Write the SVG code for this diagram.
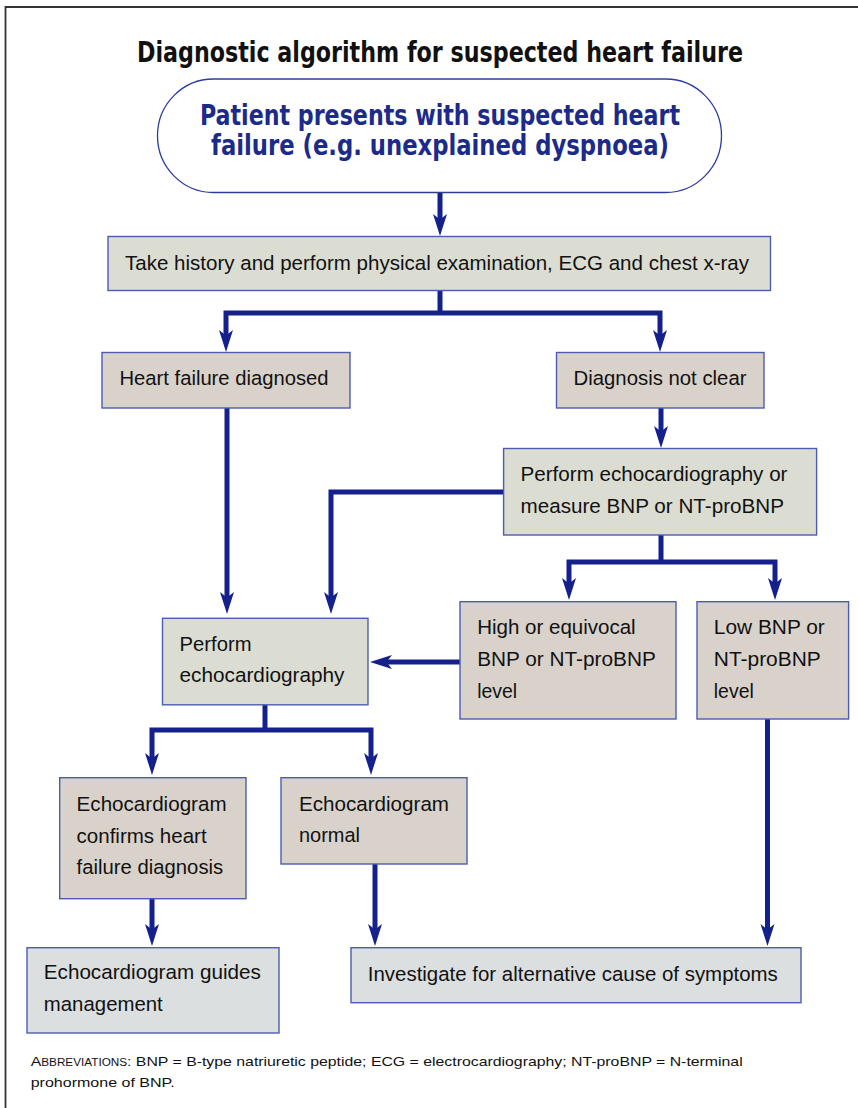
<svg xmlns="http://www.w3.org/2000/svg" width="858" height="1108" viewBox="0 0 858 1108">
<style>
.box{stroke:#4d5cb0;stroke-width:1.4}
.g{fill:#dbddd2}
.b{fill:#d9d2cb}
.l{fill:#dcdfdf}
.t{font-family:"Liberation Sans",Arial,sans-serif;font-size:20.5px;fill:#111}
.hd{font-family:"DejaVu Sans Condensed","DejaVu Sans","Liberation Sans",sans-serif;font-weight:bold}
.con{fill:none;stroke:#14218c;stroke-width:5;stroke-linejoin:miter;stroke-linecap:butt}
.ab{font-family:"Liberation Sans",Arial,sans-serif;font-size:13.5px;fill:#111}
</style>
<defs>
<marker id="ah" markerUnits="userSpaceOnUse" viewBox="-10 -8 24 16" refX="0" refY="0" markerWidth="24" markerHeight="16" orient="auto" overflow="visible">
<path d="M12,0 L-10,-7 L-4.5,0 L-10,7 Z" fill="#14218c"/>
</marker>
</defs>
<rect width="858" height="1108" fill="#fff"/>
<path d="M5.5,1108 V7 H858" fill="none" stroke="#333" stroke-width="1.8"/>
<text class="hd" x="440" y="61.5" font-size="28.5" text-anchor="middle" textLength="606" lengthAdjust="spacingAndGlyphs" fill="#111">Diagnostic algorithm for suspected heart failure</text>

<g id="connectors">
<path class="con" marker-end="url(#ah)" d="M440,193 V224"/>
<path class="con" d="M440,291 V313"/>
<path class="con" marker-end="url(#ah)" d="M440,313 H226 V340"/>
<path class="con" marker-end="url(#ah)" d="M440,313 H660 V340"/>
<path class="con" marker-end="url(#ah)" d="M227,408 V602"/>
<path class="con" marker-end="url(#ah)" d="M661,408 V436"/>
<path class="con" marker-end="url(#ah)" d="M503.6,492 H331 V602"/>
<path class="con" d="M661,535 V562"/>
<path class="con" marker-end="url(#ah)" d="M661,562 H569 V588"/>
<path class="con" marker-end="url(#ah)" d="M661,562 H775 V588"/>
<path class="con" marker-end="url(#ah)" d="M460,662 H382"/>
<path class="con" d="M265,705 V730"/>
<path class="con" marker-end="url(#ah)" d="M265,730 H152 V763"/>
<path class="con" marker-end="url(#ah)" d="M265,730 H371 V763"/>
<path class="con" marker-end="url(#ah)" d="M152,899 V934"/>
<path class="con" marker-end="url(#ah)" d="M375,864 V934"/>
<path class="con" marker-end="url(#ah)" d="M767.5,719 V934"/>
</g>

<g id="start">
<rect x="157.5" y="79" width="564" height="113.5" rx="56" ry="56.7" fill="#fff" stroke="#2d3d9c" stroke-width="1.3"/>
<text class="hd" x="440" y="125" font-size="27.5" text-anchor="middle" textLength="480" lengthAdjust="spacingAndGlyphs" fill="#1c2a8a">Patient presents with suspected heart</text>
<text class="hd" x="440" y="155" font-size="27.5" text-anchor="middle" textLength="458" lengthAdjust="spacingAndGlyphs" fill="#1c2a8a">failure (e.g. unexplained dyspnoea)</text>
</g>

<g id="history">
<rect class="box g" x="108" y="236.5" width="662.5" height="54"/>
<text class="t" x="125" y="269.5" textLength="624" lengthAdjust="spacingAndGlyphs">Take history and perform physical examination, ECG and chest x-ray</text>
</g>

<g id="hf-diagnosed">
<rect class="box b" x="102" y="352.5" width="248" height="55.5"/>
<text class="t" x="119.5" y="385" textLength="209" lengthAdjust="spacingAndGlyphs">Heart failure diagnosed</text>
</g>

<g id="not-clear">
<rect class="box b" x="556.5" y="352.5" width="207.5" height="55.5"/>
<text class="t" x="573.5" y="385" textLength="173" lengthAdjust="spacingAndGlyphs">Diagnosis not clear</text>
</g>

<g id="echo-or-bnp">
<rect class="box g" x="503.6" y="448.5" width="313" height="86.5"/>
<text class="t" x="520.5" y="481" textLength="267" lengthAdjust="spacingAndGlyphs">Perform echocardiography or</text>
<text class="t" x="520.5" y="512.7" textLength="263.5" lengthAdjust="spacingAndGlyphs">measure BNP or NT-proBNP</text>
</g>

<g id="perform-echo">
<rect class="box g" x="162.5" y="618.3" width="205.5" height="86.5"/>
<text class="t" x="179.5" y="651" textLength="72" lengthAdjust="spacingAndGlyphs">Perform</text>
<text class="t" x="179.5" y="682.3" textLength="165" lengthAdjust="spacingAndGlyphs">echocardiography</text>
</g>

<g id="high-bnp">
<rect class="box b" x="460" y="601.7" width="216" height="117.3"/>
<text class="t" x="477.2" y="634" textLength="158.5" lengthAdjust="spacingAndGlyphs">High or equivocal</text>
<text class="t" x="477.2" y="666" textLength="178.6" lengthAdjust="spacingAndGlyphs">BNP or NT-proBNP</text>
<text class="t" x="477.2" y="697.7" textLength="40" lengthAdjust="spacingAndGlyphs">level</text>
</g>

<g id="low-bnp">
<rect class="box b" x="697" y="601.7" width="151.6" height="117.3"/>
<text class="t" x="713.8" y="634" textLength="111" lengthAdjust="spacingAndGlyphs">Low BNP or</text>
<text class="t" x="713.8" y="666" textLength="107" lengthAdjust="spacingAndGlyphs">NT-proBNP</text>
<text class="t" x="713.8" y="697.7" textLength="40" lengthAdjust="spacingAndGlyphs">level</text>
</g>

<g id="echo-confirms">
<rect class="box b" x="59.7" y="777.7" width="186.3" height="121"/>
<text class="t" x="76.6" y="811" textLength="150" lengthAdjust="spacingAndGlyphs">Echocardiogram</text>
<text class="t" x="76.6" y="842.7" textLength="130" lengthAdjust="spacingAndGlyphs">confirms heart</text>
<text class="t" x="76.6" y="874.3" textLength="146.6" lengthAdjust="spacingAndGlyphs">failure diagnosis</text>
</g>

<g id="echo-normal">
<rect class="box b" x="281" y="777.7" width="186" height="86.3"/>
<text class="t" x="299" y="810.5" textLength="150" lengthAdjust="spacingAndGlyphs">Echocardiogram</text>
<text class="t" x="299" y="841.7" textLength="61" lengthAdjust="spacingAndGlyphs">normal</text>
</g>

<g id="echo-guides">
<rect class="box l" x="27" y="947.7" width="252" height="85.3"/>
<text class="t" x="43.8" y="979.3" textLength="217" lengthAdjust="spacingAndGlyphs">Echocardiogram guides</text>
<text class="t" x="43.8" y="1011" textLength="119" lengthAdjust="spacingAndGlyphs">management</text>
</g>

<g id="investigate">
<rect class="box l" x="351" y="947.7" width="450" height="55"/>
<text class="t" x="367.8" y="981" textLength="410" lengthAdjust="spacingAndGlyphs">Investigate for alternative cause of symptoms</text>
</g>

<text class="ab" x="30.7" y="1066" textLength="712" lengthAdjust="spacingAndGlyphs">A<tspan font-size="10">BBREVIATIONS</tspan>: BNP = B-type natriuretic peptide; ECG = electrocardiography; NT-proBNP = N-terminal</text>
<text class="ab" x="30.7" y="1086.7" textLength="144" lengthAdjust="spacingAndGlyphs">prohormone of BNP.</text>
</svg>
